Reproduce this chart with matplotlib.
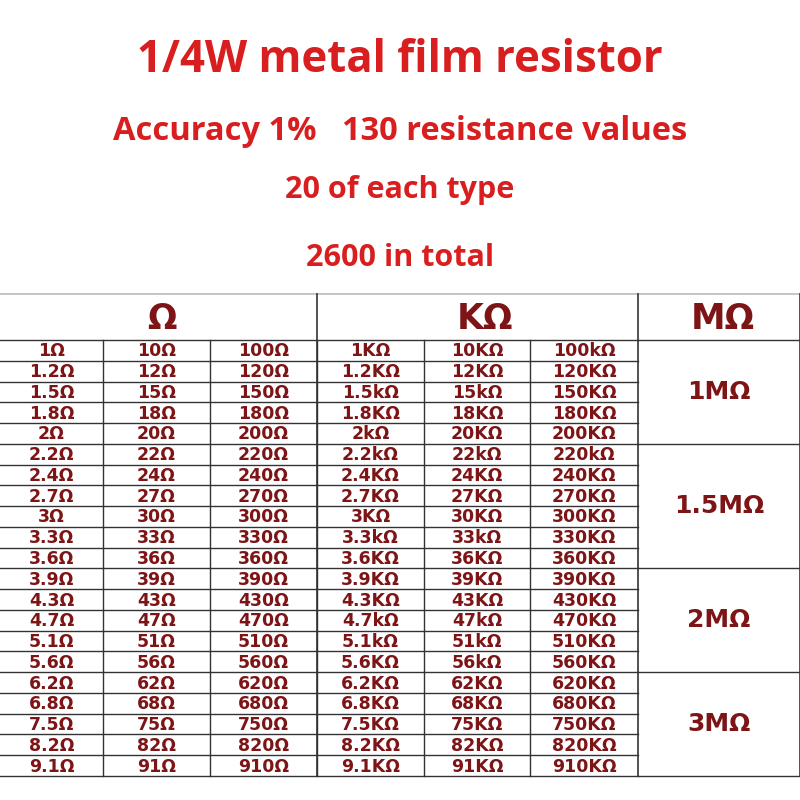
import matplotlib
matplotlib.use('Agg')
import matplotlib.pyplot as plt

title_lines = ['1/4W metal film resistor', 'Accuracy 1%   130 resistance values',
               '20 of each type', '2600 in total']
headers = ['Ω', 'KΩ', 'MΩ']

col_ohm1 = ['1Ω', '1.2Ω', '1.5Ω', '1.8Ω', '2Ω', '2.2Ω', '2.4Ω', '2.7Ω', '3Ω', '3.3Ω', '3.6Ω',
            '3.9Ω', '4.3Ω', '4.7Ω', '5.1Ω', '5.6Ω', '6.2Ω', '6.8Ω', '7.5Ω', '8.2Ω', '9.1Ω']
col_ohm2 = ['10Ω', '12Ω', '15Ω', '18Ω', '20Ω', '22Ω', '24Ω', '27Ω', '30Ω', '33Ω', '36Ω',
            '39Ω', '43Ω', '47Ω', '51Ω', '56Ω', '62Ω', '68Ω', '75Ω', '82Ω', '91Ω']
col_ohm3 = ['100Ω', '120Ω', '150Ω', '180Ω', '200Ω', '220Ω', '240Ω', '270Ω', '300Ω', '330Ω', '360Ω',
            '390Ω', '430Ω', '470Ω', '510Ω', '560Ω', '620Ω', '680Ω', '750Ω', '820Ω', '910Ω']
col_k1 = ['1KΩ', '1.2KΩ', '1.5kΩ', '1.8KΩ', '2kΩ', '2.2kΩ', '2.4KΩ', '2.7KΩ', '3KΩ', '3.3kΩ', '3.6KΩ',
          '3.9KΩ', '4.3KΩ', '4.7kΩ', '5.1kΩ', '5.6KΩ', '6.2KΩ', '6.8KΩ', '7.5KΩ', '8.2KΩ', '9.1KΩ']
col_k2 = ['10KΩ', '12KΩ', '15kΩ', '18KΩ', '20KΩ', '22kΩ', '24KΩ', '27KΩ', '30KΩ', '33kΩ', '36KΩ',
          '39KΩ', '43KΩ', '47kΩ', '51kΩ', '56kΩ', '62KΩ', '68KΩ', '75KΩ', '82KΩ', '91KΩ']
col_k3 = ['100kΩ', '120KΩ', '150KΩ', '180KΩ', '200KΩ', '220kΩ', '240KΩ', '270KΩ', '300KΩ', '330KΩ', '360KΩ',
          '390KΩ', '430KΩ', '470KΩ', '510KΩ', '560KΩ', '620KΩ', '680KΩ', '750KΩ', '820KΩ', '910KΩ']
mega_values = ['1MΩ', '1.5MΩ', '2MΩ', '3MΩ']
mega_rows = [5, 6, 5, 5]   # rows spanned by each MΩ cell

columns = [col_ohm1, col_ohm2, col_ohm3, col_k1, col_k2, col_k3]

red = '#d81e1e'
maroon = '#7d1517'
line_c = '#333333'

fig = plt.figure(figsize=(8, 8), dpi=100)
ax = fig.add_axes([0, 0, 1, 1])
ax.set_xlim(0, 800)
ax.set_ylim(800, 0)
ax.axis('off')

# titles
title_y = [60, 132, 190, 258]
title_size = [31.5, 23.5, 22, 22]
for t, y, s in zip(title_lines, title_y, title_size):
    ax.text(400, y, t, ha='center', va='center', fontsize=s, color=red,
            fontweight='bold', family=['Open Sans', 'DejaVu Sans'])

# table geometry
xs = [0, 103, 210, 317, 424, 530, 638, 800]
top = 294
head_bot = 340
n = len(col_ohm1)
rh = (776 - head_bot) / n
bottom = head_bot + n * rh

# header
ax.plot([0, 800], [top, top], color='#bbbbbb', lw=1.2)
for x in (317, 638):
    ax.plot([x, x], [top, bottom], color=line_c, lw=1.2)
ax.plot([800, 800], [top, bottom], color=line_c, lw=1.2)
head_cx = [162, 485, 723]
for h, cx in zip(headers, head_cx):
    ax.text(cx, (top + head_bot) / 2 + 2, h, ha='center', va='center', fontsize=25,
            color=maroon, fontweight='bold')

# horizontal lines for value columns
for i in range(n + 1):
    y = head_bot + i * rh
    ax.plot([0, 638], [y, y], color=line_c, lw=1.0)
for x in xs[1:6]:
    ax.plot([x, x], [head_bot, bottom], color=line_c, lw=1.0)

# values
for ci, col in enumerate(columns):
    cx = (xs[ci] + xs[ci + 1]) / 2
    for ri, v in enumerate(col):
        ax.text(cx, head_bot + (ri + 0.5) * rh + 1, v, ha='center', va='center',
                fontsize=12.5, color=maroon, fontweight='bold')

# MΩ merged cells
r0 = 0
for v, k in zip(mega_values, mega_rows):
    y0 = head_bot + r0 * rh
    y1 = head_bot + (r0 + k) * rh
    ax.plot([638, 800], [y0, y0], color=line_c, lw=1.0)
    ax.text(719, (y0 + y1) / 2, v, ha='center', va='center', fontsize=18,
            color=maroon, fontweight='bold')
    r0 += k
ax.plot([638, 800], [bottom, bottom], color=line_c, lw=1.0)

fig.savefig('out.png', dpi=100, facecolor='white')
